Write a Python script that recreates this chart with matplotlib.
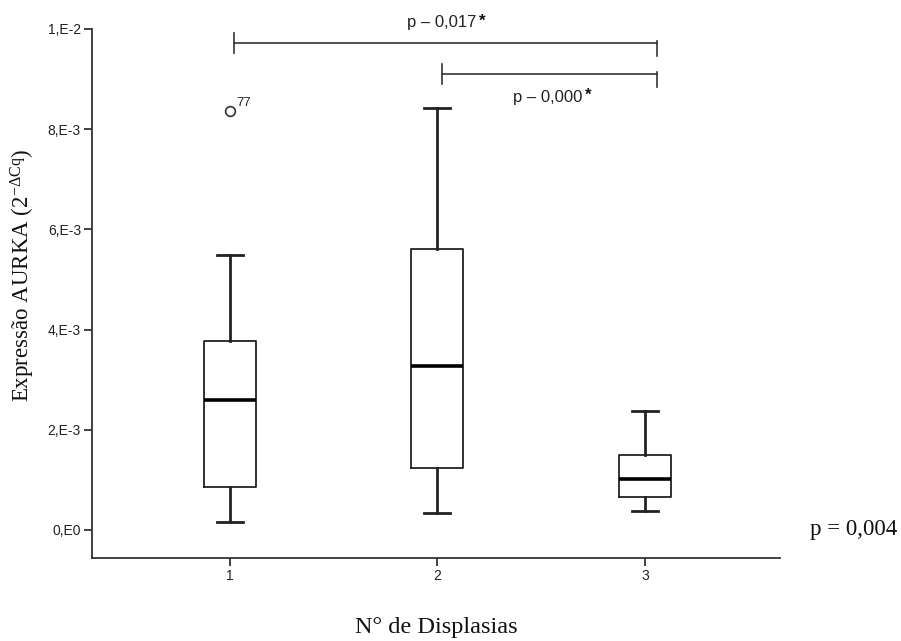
import matplotlib
matplotlib.use("Agg")
import matplotlib.pyplot as plt
from matplotlib.ticker import FixedLocator

plt.rcParams['mathtext.fontset'] = 'custom'
plt.rcParams['mathtext.rm'] = 'Liberation Serif'
plt.rcParams['mathtext.it'] = 'Liberation Serif:italic'

# ---- data (values in units of expression) ----
groups = ["1", "2", "3"]
whislo = [0.16e-3, 0.34e-3, 0.38e-3]
q1     = [0.86e-3, 1.24e-3, 0.66e-3]
med    = [2.60e-3, 3.27e-3, 1.02e-3]
q3     = [3.77e-3, 5.61e-3, 1.50e-3]
whishi = [5.49e-3, 8.42e-3, 2.38e-3]
outliers = [[8.36e-3], [], []]
outlier_labels = [["77"], [], []]

yticks = [0.0, 2e-3, 4e-3, 6e-3, 8e-3, 1e-2]
ytick_labels = ["0,E0", "2,E-3", "4,E-3", "6,E-3", "8,E-3", "1,E-2"]

# comparisons: (group a, group b, bracket level, text, text level, text x)
comparisons = [
    (1, 3, 9.72e-3, "p – 0,017", 10.12e-3, 2.02),
    (2, 3, 9.10e-3, "p – 0,000", 8.64e-3, 2.53),
]
overall_p = "p = 0,004"

fig = plt.figure(figsize=(9.01, 6.41), dpi=100)
ax = fig.add_axes([92/901, 1-558/641, (780-92)/901, (558-29)/641])

stats = []
for i in range(len(groups)):
    stats.append(dict(whislo=whislo[i], q1=q1[i], med=med[i], q3=q3[i],
                      whishi=whishi[i], fliers=outliers[i]))
pos = list(range(1, len(groups)+1))
ax.bxp(stats, positions=pos, widths=0.25, showfliers=True,
       boxprops=dict(color='#222222', linewidth=1.3),
       medianprops=dict(color='black', linewidth=2.6),
       whiskerprops=dict(color='#222222', linewidth=2.0),
       capprops=dict(color='#222222', linewidth=2.0),
       capwidths=0.125,
       flierprops=dict(marker='o', markerfacecolor='white', markeredgecolor='#333333',
                       markersize=7, markeredgewidth=1.2))

for i, (vals, labs) in enumerate(zip(outliers, outlier_labels)):
    for v, lab in zip(vals, labs):
        ax.annotate(lab, (pos[i], v), xytext=(5, 4), textcoords='offset points',
                    fontsize=9.5, family='Liberation Sans', color='#222222')

ax.set_xlim(0.337, 3.65)
ax.set_ylim(-0.56e-3, 1e-2)
ax.yaxis.set_major_locator(FixedLocator(yticks))
ax.set_yticklabels(ytick_labels, family='Liberation Sans', fontsize=10, color='#222222')
ax.set_xticks(pos)
ax.set_xticklabels(groups, family='Liberation Sans', fontsize=10, color='#222222')
ax.tick_params(axis='both', length=6, width=1.3, color='#333333', pad=2)
for s in ['top', 'right']:
    ax.spines[s].set_visible(False)
for s in ['left', 'bottom']:
    ax.spines[s].set_linewidth(1.3)
    ax.spines[s].set_color('#333333')

ax.set_ylabel(r"Expressão AURKA (2$^{\mathrm{-\Delta Cq}}$)", family='Liberation Serif',
              fontsize=16.5, color='#111111')
ax.yaxis.set_label_coords(-(92-37)/688, (558-275)/529)
ax.set_xlabel("N° de Displasias", family='Liberation Serif', fontsize=17.5, color='#111111')
ax.xaxis.set_label_coords(0.5, -(617-558)/529)

for a, b, lvl, txt, tl, tx in comparisons:
    xa, xb = pos[a-1] + 0.02, pos[b-1] + 0.06
    ax.plot([xa, xb], [lvl, lvl], color='#333333', lw=1.2, clip_on=False)
    ax.plot([xa, xa], [lvl - 0.2e-3, lvl + 0.2e-3], color='#333333', lw=1.2, clip_on=False)
    ax.plot([xb, xb], [lvl - 0.25e-3, lvl + 0.05e-3], color='#333333', lw=1.2, clip_on=False)
    t = ax.text(tx, tl, txt, ha='center', va='center', fontsize=12,
                family='Liberation Sans', color='#222222', clip_on=False)
    ax.annotate("*", xy=(1, 1), xycoords=t, xytext=(2, -4), textcoords='offset points',
                ha='left', va='center', fontsize=12, fontweight='bold',
                family='Liberation Sans', color='#111111', annotation_clip=False)

fig.text(810/901, 1-530/641, overall_p, family='Liberation Serif', fontsize=16.5,
         color='#111111', ha='left', va='center')

fig.savefig("out.png", dpi=100)
